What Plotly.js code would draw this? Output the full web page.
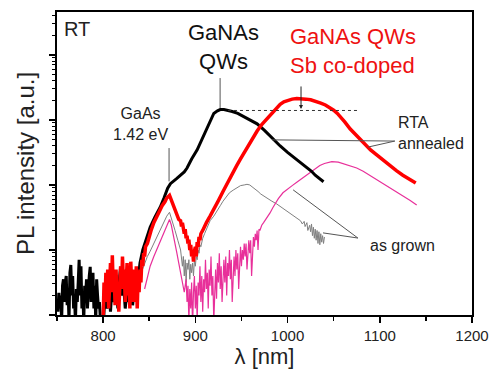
<!DOCTYPE html>
<html>
<head>
<meta charset="utf-8">
<script src="https://cdn.plot.ly/plotly-3.0.1.min.js"></script>
<style>html,body{margin:0;padding:0;background:#fff;}#chart{width:496px;height:370px;}</style>
</head>
<body>
<div id="chart"></div>
<script>
// Wavelengths in nm, intensities read as log10(PL intensity, a.u.)
var blackWl = [751,752,753,754,755,756,757,758,759,760,761,762,763,764,765,766,767,768,769,770,771,772,773,774,775,776,777,778,779,780,781,782,783,784,785,786,787,788,789,790,791,792,793,794,795,796,797,798,799,800,802,804,806,808,810,812,814,816,818,819,820,822,824,826,828,830,832,834,836,838,840,843,847,851,856,862,866,870,873,876,880,884,888,891,896,902,907,913,917,920,924,927,931,935,940,946,951,957,962,967,975,982,987,992,1000,1007,1014,1022,1026,1030,1035,1039];
var blackLogI = [0.05,0.34,0.1,0.3,-0.1,0.45,0.55,0.2,0.5,0.6,0.15,0.4,-0.1,0.65,0.77,0.3,0.6,0.1,0.25,-0.1,0.4,0.2,0.5,0.85,0.3,0.75,0.1,0.35,-0.1,0.45,0.3,0.55,0.1,0.4,0.6,0.74,0.2,0.5,0.65,0.1,0.45,-0.1,0.55,0.3,0.1,0.2,-0.2,-0.3,-0.3,-0.2,0.3,0.1,0.4,0.05,0.5,0.2,0.45,0.1,0.6,0.74,0.3,0.5,0.1,0.4,0.2,0.55,0.15,0.45,0.3,0.6,0.8,1.0,1.18,1.35,1.5,1.66,1.8,1.95,2.02,2.06,2.1,2.15,2.2,2.26,2.4,2.54,2.7,2.89,3.02,3.1,3.14,3.16,3.16,3.15,3.13,3.1,3.06,3.02,2.98,2.94,2.84,2.74,2.67,2.6,2.5,2.42,2.34,2.26,2.21,2.15,2.1,2.05];

var redWl = [800,801,802,803,804,805,806,807,808,809,810,811,812,813,814,815,816,817,818,819,820,821,822,823,824,825,826,827,828,829,830,831,832,833,834,835,836,837,838,839,840,841,842,843,844,845,846,848,850,852,855,857,859,862,864,867,869,872,874,876,878,880,882,884,885,886,887,888,889,890,891,892,893,894,895,896,897,898,899,900,901,902,903,904,905,906,908,910,912,916,920,925,930,935,940,945,949,955,960,967,972,977,982,987,992,996,1000,1005,1010,1014,1020,1025,1030,1036,1041,1046,1050,1054,1058,1062,1068,1074,1080,1085,1090,1096,1102,1107,1112,1118,1125,1132,1139];
var redLogI = [-0.1,0.5,0.2,0.65,0.3,0.7,0.1,0.55,0.8,0.35,0.92,0.4,0.6,0.15,0.7,0.3,0.5,0.05,0.6,0.75,0.4,0.9,0.5,0.7,0.2,0.6,0.8,0.3,0.55,0.1,0.82,0.45,0.7,0.2,0.65,0.4,0.75,0.1,0.6,0.35,0.7,0.5,0.85,0.75,0.95,0.9,1.05,1.1,1.22,1.3,1.42,1.48,1.55,1.62,1.68,1.74,1.8,1.84,1.76,1.68,1.6,1.55,1.47,1.45,1.36,1.42,1.3,1.25,1.32,1.18,1.22,1.1,1.16,1.0,1.08,0.9,1.0,0.82,0.98,1.05,0.9,1.12,1.05,1.2,1.15,1.25,1.3,1.38,1.42,1.52,1.62,1.76,1.9,2.04,2.18,2.3,2.4,2.55,2.66,2.83,2.93,3.01,3.08,3.16,3.24,3.28,3.3,3.32,3.33,3.33,3.32,3.31,3.29,3.26,3.23,3.19,3.15,3.1,3.04,2.97,2.86,2.77,2.68,2.61,2.54,2.47,2.4,2.34,2.28,2.22,2.15,2.09,2.03];

var grayWl = [840,845,848,851,855,860,865,869,872,875,878,881,884,886,887,888,889,890,891,892,893,894,895,896,897,898,899,900,901,902,903,904,905,906,908,910,913,916,920,923,927,930,934,937,941,945,949,953,956,959,962,965,968,971,975,979,983,988,992,996,1000,1004,1008,1011,1014,1016,1018,1019,1021,1022,1024,1025,1026,1027,1028,1029,1030,1031,1032,1033,1034,1035,1036,1037,1038,1039,1040];
var grayLogI = [0.6,0.8,0.9,0.98,1.1,1.25,1.4,1.52,1.58,1.45,1.3,1.15,1.0,0.75,0.9,0.6,0.85,0.5,0.8,0.7,0.85,0.55,0.78,0.65,0.8,0.6,0.85,0.75,0.9,0.85,1.0,0.95,1.08,1.05,1.18,1.25,1.35,1.45,1.52,1.58,1.68,1.75,1.82,1.88,1.92,1.96,1.99,2.0,2.01,2.0,1.97,1.93,1.9,1.86,1.82,1.78,1.75,1.71,1.67,1.64,1.6,1.56,1.52,1.48,1.45,1.4,1.44,1.36,1.42,1.3,1.38,1.28,1.4,1.22,1.35,1.18,1.32,1.15,1.3,1.1,1.28,1.08,1.25,1.12,1.22,1.1,1.2];

var pinkWl = [845,848,851,855,858,861,864,867,870,872,874,876,878,880,882,884,886,888,890,891,892,893,894,895,896,897,898,899,900,901,902,903,904,905,906,907,908,909,910,911,912,913,914,915,916,917,918,919,920,921,922,923,924,925,926,927,928,929,930,931,932,933,934,935,936,937,938,939,940,941,942,943,944,945,946,947,948,949,950,951,952,953,954,955,956,957,958,959,960,961,962,963,964,965,966,967,968,969,970,972,974,976,978,981,984,987,990,995,1000,1005,1010,1015,1020,1025,1030,1035,1040,1045,1048,1055,1062,1070,1075,1082,1090,1097,1105,1112,1119,1126,1133,1140];
var pinkLogI = [0.4,0.6,0.75,0.9,1.0,1.1,1.2,1.32,1.42,1.47,1.38,1.25,1.1,0.95,0.8,0.65,0.5,0.35,0.55,0.2,0.45,-0.1,0.4,0.1,0.5,-0.2,0.35,0.6,0.1,0.45,-0.1,0.5,0.3,0.75,0.2,0.6,0.05,0.55,0.35,0.85,0.4,0.65,0.1,0.7,0.45,0.9,0.3,0.6,-0.1,0.55,0.7,0.25,0.8,0.5,0.95,0.4,0.75,0.2,0.65,0.85,0.5,0.9,0.3,0.8,0.6,1.0,0.55,0.85,0.2,0.75,0.9,0.6,1.0,0.7,0.95,0.4,0.9,1.05,0.75,1.0,0.85,1.1,0.9,1.1,0.7,1.05,1.15,0.95,1.15,0.6,1.1,1.2,1.05,1.25,1.15,1.3,1.0,1.32,1.3,1.38,1.42,1.46,1.5,1.57,1.65,1.72,1.79,1.88,1.94,1.99,2.04,2.09,2.15,2.2,2.25,2.3,2.33,2.35,2.36,2.35,2.32,2.28,2.26,2.21,2.14,2.08,2.0,1.94,1.88,1.82,1.76,1.69];

var xTickVals = [800,900,1000,1100,1200];
var xTickText = ['800','900','1000','1100','1200'];
var yMajor = [1,10,100,1000,10000];
var yMinor = [2,3,4,5,6,7,8,9,20,30,40,50,60,70,80,90,200,300,400,500,600,700,800,900,2000,3000,4000,5000,6000,7000,8000,9000,20000,30000,40000];

function toI(arr){ return arr.map(function(v){ return Math.pow(10, v); }); }

var FONT = 'Liberation Sans, Arial, sans-serif';

var traces = [
  {x: grayWl, y: toI(grayLogI), mode:'lines', line:{color:'#808080', width:1}, hoverinfo:'skip'},
  {x: pinkWl, y: toI(pinkLogI), mode:'lines', line:{color:'#e8309a', width:1.2}, hoverinfo:'skip'},
  {x: blackWl, y: toI(blackLogI), mode:'lines', line:{color:'#000000', width:3}, hoverinfo:'skip'},
  {x: redWl, y: toI(redLogI), mode:'lines', line:{color:'#ff0000', width:3.5}, hoverinfo:'skip'}
];

var lineC = '#555555';
var layout = {
  width:496, height:370,
  margin:{l:57, r:24, t:12, b:55},
  paper_bgcolor:'#ffffff', plot_bgcolor:'#ffffff',
  showlegend:false,
  font:{family:FONT, color:'#000'},
  xaxis:{
    range:[750,1200], tickmode:'array', tickvals:xTickVals, ticktext:xTickText,
    ticks:'outside', ticklen:6, tickwidth:1.5, tickcolor:'#000',
    minor:{tickmode:'array', tickvals:[750,850,950,1050,1150], ticks:'outside', ticklen:4, tickwidth:1.5, tickcolor:'#000'},
    showline:true, linewidth:2, linecolor:'#000', mirror:true,
    showgrid:false, zeroline:false,
    tickfont:{size:15, color:'#222', family:FONT},
    title:{text:'\u03bb [nm]', font:{size:22, color:'#222', family:FONT}, standoff:6}
  },
  yaxis:{
    type:'log', range:[0,4.66], tickmode:'array', tickvals:yMajor,
    showticklabels:false,
    ticks:'outside', ticklen:6, tickwidth:1.5, tickcolor:'#000',
    minor:{tickmode:'array', tickvals:yMinor, ticks:'outside', ticklen:3, tickwidth:1, tickcolor:'#000'},
    showline:true, linewidth:2, linecolor:'#000', mirror:true,
    showgrid:false, zeroline:false,
    title:{text:'PL intensity [a.u.]', font:{size:24, color:'#222', family:FONT}, standoff:8}
  },
  shapes:[
    {type:'line', xref:'paper', yref:'paper', x0:0.270, x1:0.270, y0:0.551, y1:0.441, line:{color:lineC, width:1}},
    {type:'line', xref:'paper', yref:'paper', x0:0.393, x1:0.393, y0:0.782, y1:0.683, line:{color:lineC, width:1}},
    {type:'line', xref:'paper', yref:'paper', x0:0.412, x1:0.723, y0:0.675, y1:0.675, line:{color:'#333', width:1, dash:'dot'}},
    {type:'line', xref:'paper', yref:'paper', x0:0.518, x1:0.814, y0:0.578, y1:0.574, line:{color:lineC, width:1}},
    {type:'line', xref:'paper', yref:'paper', x0:0.749, x1:0.814, y0:0.554, y1:0.574, line:{color:lineC, width:1}},
    {type:'line', xref:'paper', yref:'paper', x0:0.725, x1:0.569, y0:0.254, y1:0.413, line:{color:lineC, width:1}},
    {type:'line', xref:'paper', yref:'paper', x0:0.725, x1:0.641, y0:0.254, y1:0.271, line:{color:lineC, width:1}}
  ],
  annotations:[
    {xref:'paper', yref:'paper', x:0.012, y:0.944, xanchor:'left', yanchor:'middle', text:'RT', showarrow:false, font:{size:20, color:'#222', family:FONT}},
    {xref:'paper', yref:'paper', x:0.402, y:0.884, xanchor:'center', yanchor:'middle', text:'GaNAs<br>QWs', showarrow:false, font:{size:22, color:'#111', family:FONT}},
    {xref:'paper', yref:'paper', x:0.713, y:0.871, xanchor:'center', yanchor:'middle', text:'GaNAs QWs<br>Sb co-doped', align:'left', showarrow:false, font:{size:22, color:'#ee1111', family:FONT}},
    {xref:'paper', yref:'paper', x:0.200, y:0.630, xanchor:'center', yanchor:'middle', text:'GaAs<br>1.42 eV', showarrow:false, font:{size:16, color:'#222', family:FONT}},
    {xref:'paper', yref:'paper', x:0.817, y:0.601, xanchor:'left', yanchor:'middle', text:'RTA<br>annealed', align:'left', showarrow:false, font:{size:16, color:'#222', family:FONT}},
    {xref:'paper', yref:'paper', x:0.749, y:0.228, xanchor:'left', yanchor:'middle', text:'as grown', showarrow:false, font:{size:16, color:'#222', family:FONT}},
    {xref:'paper', yref:'paper', x:0.588, y:0.680, ax:0, ay:-24, text:'', showarrow:true, arrowhead:2, arrowsize:0.8, arrowwidth:1, arrowcolor:'#222', standoff:0}
  ]
};

Plotly.newPlot('chart', traces, layout, {staticPlot:true, displayModeBar:false});
</script>
</body>
</html>
